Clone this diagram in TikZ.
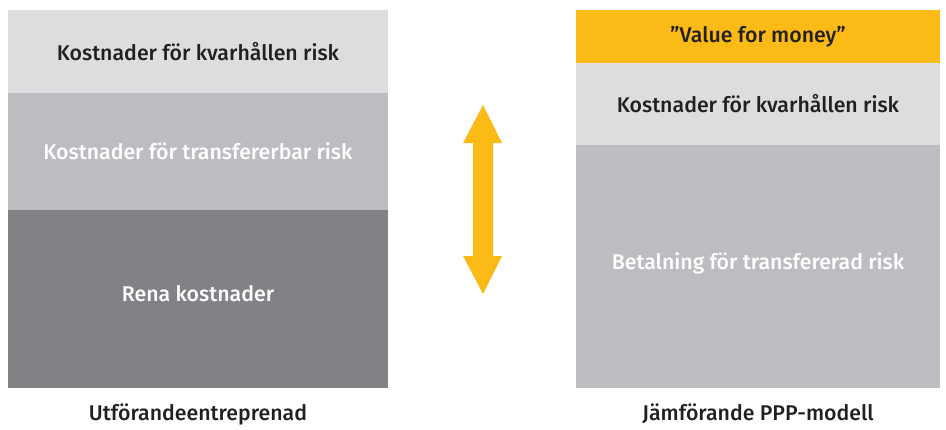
\documentclass[tikz,border=0pt]{standalone}
\usepackage{fontspec}
\setmainfont{Fira Sans}[UprightFont={* Medium}]
\definecolor{ljus}{HTML}{DCDDDF}
\definecolor{mellan}{HTML}{BCBDC1}
\definecolor{mork}{HTML}{818286}
\definecolor{gul}{HTML}{FBBA16}
\definecolor{text}{HTML}{231F20}

\begin{document}
\begin{tikzpicture}[x=1pt,y=-1pt,
    block/.style={anchor=north west,inner sep=0pt,outer sep=0pt,text=text,
        font=\fontsize{21.3}{23}\selectfont},
    rubrik/.style={text=text,font=\fontsize{21.3}{23}\selectfont}]
    \useasboundingbox (0,0) rectangle (946,429);

    % Left column
    \node[block,fill=ljus,minimum width=380pt,minimum height=83pt] (lkvar) at (8,10) {Kostnader för kvarhållen risk};
    \node[block,fill=mellan,text=white,minimum width=380pt,minimum height=117pt] (ltrans) at (8,93) {Kostnader för transfererbar risk};
    \node[block,fill=mork,text=white,minimum width=380pt,minimum height=178pt,text depth=12pt] (lrena) at (8,210) {Rena kostnader};

    % Right column
    \node[block,fill=gul,minimum width=364pt,minimum height=53pt] (rvalue) at (576,10) {"Value for money"};
    \node[block,fill=ljus,minimum width=364pt,minimum height=82pt] (rkvar) at (576,63) {Kostnader för kvarhållen risk};
    \node[block,fill=mellan,text=white,minimum width=364pt,minimum height=243pt,text depth=10pt] (rbet) at (576,145) {Betalning för transfererad risk};

    % Double arrow
    \fill[gul] (483,105) -- (502,143) -- (493,143) -- (493,256) -- (502,256)
        -- (483,294) -- (463,256) -- (473,256) -- (473,143) -- (463,143) -- cycle;

    % Captions
    \node[rubrik] (lrubrik) at (lrena.south |- 0,414) {Utförandeentreprenad};
    \node[rubrik] (rrubrik) at (rbet.south |- 0,414) {Jämförande PPP-modell};
\end{tikzpicture}
\end{document}
